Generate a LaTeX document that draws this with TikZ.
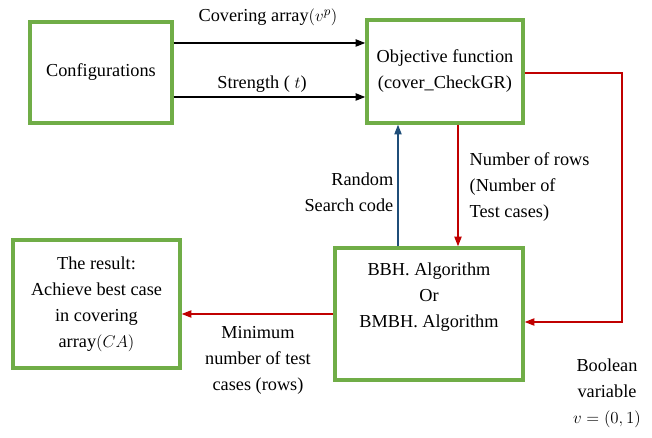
\documentclass[tikz,border=0pt]{standalone}
\usepackage{fontspec}
\setmainfont{Liberation Serif}
\usetikzlibrary{arrows.meta}
\definecolor{boxgreen}{RGB}{112,173,71}
\definecolor{linered}{RGB}{192,0,0}
\definecolor{lineblue}{RGB}{31,78,121}
\tikzset{
  block/.style={draw=boxgreen, line width=2.2pt, align=center, inner sep=2pt},
  lbl/.style={align=center, inner sep=1pt},
  blackline/.style={-{Triangle[length=7pt,width=5pt]}, line width=1.5pt, black},
  redline/.style={-{Triangle[length=7pt,width=5pt]}, line width=1.4pt, linered},
  blueline/.style={-{Triangle[length=7pt,width=5pt]}, line width=1.3pt, lineblue}
}
\begin{document}
\begin{tikzpicture}[x=0.025cm, y=-0.025cm, font=\fontsize{13}{18.5}\selectfont]
\useasboundingbox (0,0) rectangle (652,438);
\node[block, minimum width=142*0.025cm, minimum height=101*0.025cm] (conf) at (101,72.5) {Configurations};
\node[block, minimum width=156*0.025cm, minimum height=103*0.025cm] (obj) at (445,71.5) {Objective function\\(cover\_CheckGR)};
\node[block, minimum width=188*0.025cm, minimum height=132*0.025cm] (bbh) at (429,314) {BBH. Algorithm\\Or\\BMBH. Algorithm\\[8pt]};
\node[block, minimum width=167*0.025cm, minimum height=128*0.025cm] (res) at (96.5,304) {The result:\\Achieve best case\\in covering\\array$(CA)$};
% helper points
\coordinate (top) at (0,43);
\coordinate (bot) at (0,97);
\coordinate (bx) at (398,0);
\coordinate (rx) at (458,0);
\coordinate (rout) at (0,73);
\coordinate (loop) at (622,322);
% connectors
\draw[blackline] (conf.east |- top) -- (obj.west |- top);
\draw[blackline] (conf.east |- bot) -- (obj.west |- bot);
\draw[blueline] (bbh.north -| bx) -- (obj.south -| bx);
\draw[redline] (obj.east |- rout) -| (loop) -- (bbh.east |- loop);
\draw[redline] (obj.south -| rx) -- (bbh.north -| rx);
\draw[redline] (bbh.west) -- (res.east |- bbh.west);
% labels
\node[lbl] (lcov) at (268,17) {Covering array$(v^p)$};
\node[lbl] (lstr) at (262,84) {Strength ( $t$)};
\node[lbl, anchor=east, align=right] (lrnd) at (395,192) {Random\\Search code};
\node[lbl, anchor=west, align=left] (lrow) at (468,187) {Number of rows\\(Number of\\Test cases)};
\node[lbl] (lmin) at (258,360) {Minimum\\number of test\\cases (rows)};
\node[lbl] (lbool) at (607,393) {Boolean\\variable\\$v=(0,1)$};
\end{tikzpicture}
\end{document}
